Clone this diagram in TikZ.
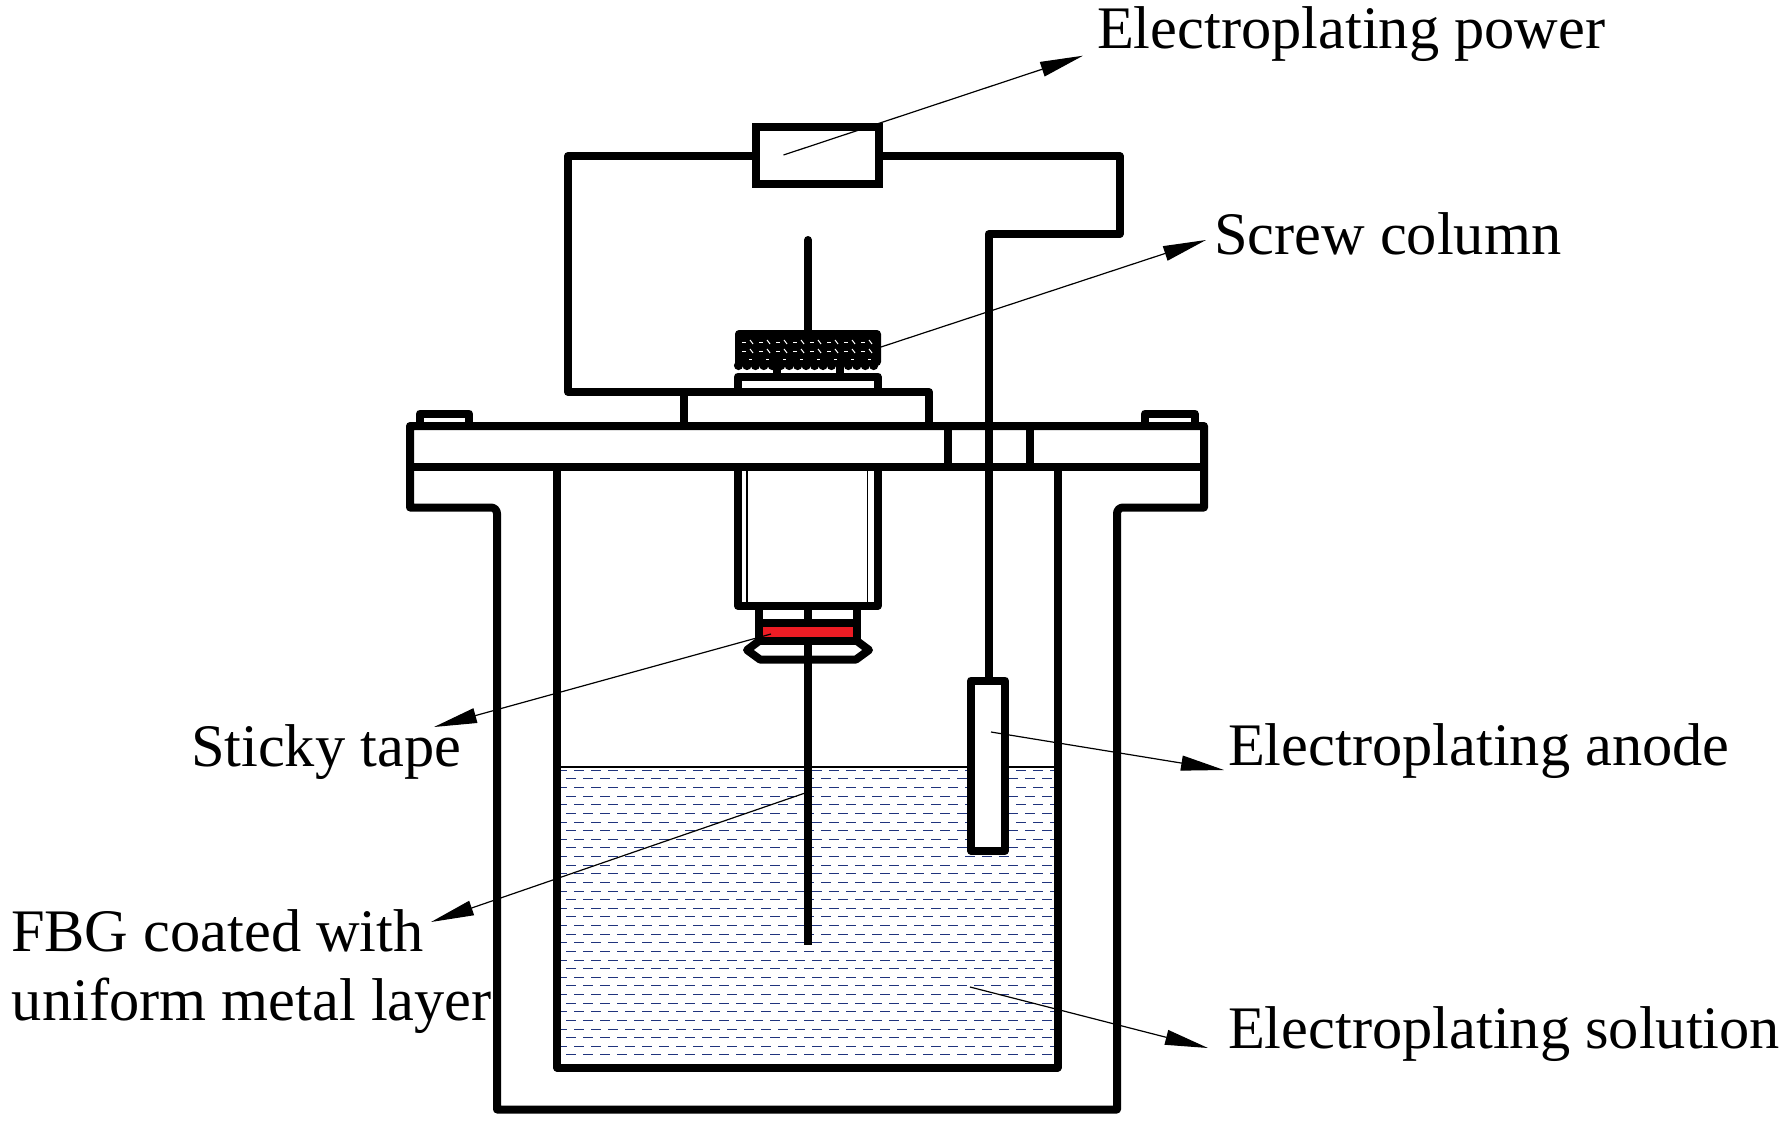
\documentclass[tikz,border=0pt]{standalone}
\usepackage{fontspec}
\setmainfont{Liberation Serif}
\usetikzlibrary{arrows.meta}
\definecolor{liquidblue}{RGB}{32,52,125}
\definecolor{tapered}{RGB}{237,28,36}
\tikzset{
  thick line/.style={line width=8pt,line join=round,line cap=butt},
  thin line/.style={line width=1.2pt},
  leader/.style={line width=1.2pt,-{Triangle[length=43pt,width=15pt]}},
  label text/.style={font=\fontsize{60.4}{62}\selectfont,anchor=base west,inner sep=0pt,outer sep=0pt},
  liquid/.style={line width=1.2pt,color=liquidblue}
}
\begin{document}
\begin{tikzpicture}[x=1pt,y=-1pt]
\useasboundingbox (0,0) rectangle (1790,1125);
% liquid
\draw[line width=1.3pt] (557,767) -- (1057,767);
\foreach \n in {0,...,33}{
  \pgfmathsetmacro{\yy}{floor(770.3+8.627*\n)+0.5}
  \pgfmathtruncatemacro{\odd}{mod(\n,2)}
  \ifnum\odd=0
    \draw[liquid,dash pattern=on 10pt off 7pt,dash phase=4pt] (561,\yy) -- (1054,\yy);
  \else
    \draw[liquid,dash pattern=on 10pt off 7pt,dash phase=12pt] (561,\yy) -- (1054,\yy);
  \fi
}
% vessel
\draw[thick line] (410,426) -- (1204,426) -- (1204,507.5) -- (1124,507.5) [rounded corners=6pt] -- (1117,507.5) -- (1117,520) [sharp corners] -- (1117,1109.5) -- (497,1109.5) -- (497,520) [rounded corners=6pt] -- (497,507.5) -- (480,507.5) [sharp corners] -- (410,507.5) -- cycle;
\draw[thick line] (410,466.5) -- (1204,466.5);
\draw[thick line] (557,466.5) -- (557,1067.5) -- (1057.5,1067.5) -- (1057.5,466.5);
\draw[thick line] (947.5,426) -- (947.5,466.5);
\draw[thick line] (1029.5,426) -- (1029.5,466.5);
% bolts
\draw[thick line] (420,426) -- (420,413.5) -- (469,413.5) -- (469,426);
\draw[thick line] (1145,426) -- (1145,413.5) -- (1194.5,413.5) -- (1194.5,426);
% block on lid
\draw[thick line] (683.5,426) -- (683.5,392) -- (929,392) -- (929,426);
\draw[thick line] (738,392) -- (738,376.5) -- (877.5,376.5) -- (877.5,392);
\draw[thick line] (776.5,364) -- (776.5,376.5);
\draw[thick line] (840,364) -- (840,376.5);
% power box and wires
\node[draw,line width=8pt,minimum width=123pt,minimum height=56.7pt,inner sep=0pt,outer sep=4pt] (powerbox) at (817.5,155.6) {};
\draw[thick line] (powerbox.west |- 0,156) -- (568,156) -- (568,392) -- (683.5,392);
\draw[thick line] (powerbox.east |- 0,156) -- (1119.5,156) -- (1119.5,234.3) -- (988.5,234.3) -- (988.5,680.5);
% body under lid
\draw[thick line] (738,466.5) -- (738,606) -- (877.5,606) -- (877.5,466.5);
\draw[thin line] (747,468) -- (747,603);
\draw[thin line] (867.5,468) -- (867.5,603);
% stem / fibre
\draw[thick line,line cap=round] (808,240) -- (808,335);
\draw[thick line] (808,606) -- (808,945);
% holder
\draw[thick line] (759,606) -- (759,640.5);
\draw[thick line] (857,606) -- (857,640.5);
\draw[thick line] (759,623) -- (857,623);
\draw[thick line] (759,640.5) -- (857,640.5);
\fill[tapered] (763,627) rectangle (853,637);
\draw[thick line] (759,641) -- (747,650) -- (760,659.5) -- (856,659.5) -- (869,650) -- (857,641);
% knob
\foreach \k in {0,...,16}{
  \fill ({738.5+8.45*\k},365.5) circle (4.6pt);
}
\fill[rounded corners=4pt] (735,330) rectangle (881,366);
\foreach \yy in {342,351}{
  \foreach \k in {0,...,7}{
    \draw[white,line width=1pt] ({742+17*\k},\yy) -- ({746+17*\k},\yy);
    \draw[white,line width=1pt] ({750+17*\k},\yy-2) -- ({753+17*\k},\yy+2);
  }
}
\foreach \k in {0,...,7}{
  \draw[white,line width=1pt] ({749+17*\k},359) -- ({752+17*\k},359);
}
% anode
\draw[thick line,fill=white] (971,680.5) rectangle (1005,850.5);
% labels
\node[label text] (lpower) at (1097,48) {Electroplating power};
\node[label text] (lscrew) at (1214,254) {Screw column};
\node[label text] (ltape) at (191,766) {Sticky tape};
\node[label text] (lanode) at (1228,765) {Electroplating anode};
\node[label text] (lfbga) at (11,951) {FBG coated with};
\node[label text] (lfbgb) at (12,1020) {uniform metal layer};
\node[label text] (lsol) at (1228,1048) {Electroplating solution};
% leaders
\coordinate (powerFrom) at (783.5,155);
\coordinate (powerTip) at (1083,55.7);
\coordinate (screwFrom) at (881,347);
\coordinate (screwTip) at (1206,240);
\coordinate (tapeFrom) at (771,634);
\coordinate (tapeTip) at (434,727);
\coordinate (fbgFrom) at (808,792);
\coordinate (fbgTip) at (431,922);
\coordinate (anodeFrom) at (991,732);
\coordinate (anodeTip) at (1224,770);
\coordinate (solFrom) at (970,987);
\coordinate (solTip) at (1208,1048);
\draw[leader] (powerFrom) -- (powerTip);
\draw[leader] (screwFrom) -- (screwTip);
\draw[leader] (tapeFrom) -- (tapeTip);
\draw[leader] (fbgFrom) -- (fbgTip);
\draw[leader] (anodeFrom) -- (anodeTip);
\draw[leader] (solFrom) -- (solTip);
\end{tikzpicture}
\end{document}
